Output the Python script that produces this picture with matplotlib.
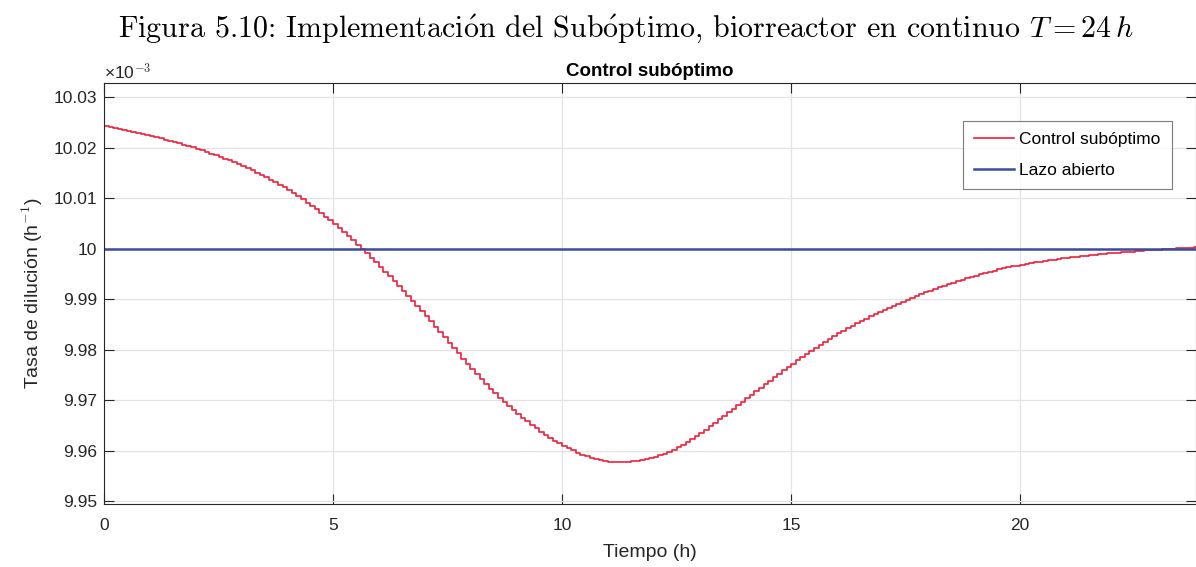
import numpy as np
import matplotlib
matplotlib.use("Agg")
import matplotlib.pyplot as plt
from matplotlib.ticker import FuncFormatter

# Dilution rate (x 1e-3 h^-1) applied by the suboptimal controller, one value per 0.1 h interval
dt = 0.1
control_rate = [
    10.02430, 10.02412, 10.02393, 10.02374, 10.02355, 10.02335, 10.02315, 10.02294, 10.02273, 10.02252,
    10.02230, 10.02208, 10.02185, 10.02161, 10.02137, 10.02112, 10.02086, 10.02059, 10.02032, 10.02004,
    10.01975, 10.01945, 10.01915, 10.01883, 10.01851, 10.01818, 10.01784, 10.01748, 10.01711, 10.01673,
    10.01634, 10.01593, 10.01551, 10.01508, 10.01463, 10.01417, 10.01369, 10.01319, 10.01267, 10.01213,
    10.01157, 10.01099, 10.01039, 10.00977, 10.00913, 10.00847, 10.00779, 10.00709, 10.00637, 10.00563,
    10.00487, 10.00410, 10.00331, 10.00250, 10.00168, 10.00084, 9.99998, 9.99911, 9.99822, 9.99732,
    9.99640, 9.99547, 9.99453, 9.99358, 9.99262, 9.99165, 9.99067, 9.98968, 9.98868, 9.98767,
    9.98665, 9.98562, 9.98458, 9.98353, 9.98247, 9.98141, 9.98035, 9.97930, 9.97826, 9.97723,
    9.97622, 9.97522, 9.97424, 9.97328, 9.97235, 9.97144, 9.97056, 9.96971, 9.96888, 9.96808,
    9.96731, 9.96656, 9.96584, 9.96514, 9.96447, 9.96383, 9.96321, 9.96262, 9.96206, 9.96153,
    9.96102, 9.96054, 9.96009, 9.95966, 9.95928, 9.95894, 9.95864, 9.95839, 9.95818, 9.95802,
    9.95790, 9.95783, 9.95781, 9.95783, 9.95787, 9.95795, 9.95805, 9.95819, 9.95836, 9.95857,
    9.95882, 9.95911, 9.95944, 9.95981, 9.96024, 9.96071, 9.96123, 9.96177, 9.96235, 9.96295,
    9.96359, 9.96424, 9.96491, 9.96558, 9.96627, 9.96696, 9.96766, 9.96836, 9.96906, 9.96976,
    9.97046, 9.97116, 9.97185, 9.97254, 9.97323, 9.97391, 9.97459, 9.97526, 9.97593, 9.97660,
    9.97726, 9.97792, 9.97856, 9.97920, 9.97982, 9.98044, 9.98104, 9.98162, 9.98218, 9.98273,
    9.98326, 9.98377, 9.98428, 9.98477, 9.98525, 9.98573, 9.98619, 9.98664, 9.98708, 9.98751,
    9.98794, 9.98835, 9.98876, 9.98915, 9.98954, 9.98992, 9.99030, 9.99067, 9.99103, 9.99138,
    9.99172, 9.99205, 9.99238, 9.99270, 9.99301, 9.99331, 9.99361, 9.99390, 9.99418, 9.99445,
    9.99471, 9.99497, 9.99522, 9.99546, 9.99569, 9.99591, 9.99612, 9.99632, 9.99651, 9.99669,
    9.99686, 9.99702, 9.99717, 9.99732, 9.99746, 9.99760, 9.99773, 9.99786, 9.99798, 9.99810,
    9.99821, 9.99832, 9.99843, 9.99853, 9.99863, 9.99873, 9.99882, 9.99891, 9.99900, 9.99908,
    9.99916, 9.99924, 9.99932, 9.99939, 9.99946, 9.99953, 9.99960, 9.99966, 9.99972, 9.99978,
    9.99984, 9.99990, 9.99996, 10.00002, 10.00008, 10.00013, 10.00018, 10.00023, 10.00028, 10.00033,
]
open_loop_rate = 10.0

x_ticks = [0, 5, 10, 15, 20]
y_ticks = [9.95, 9.96, 9.97, 9.98, 9.99, 10.00, 10.01, 10.02, 10.03]

times = np.arange(len(control_rate)) * dt

plt.rcParams["mathtext.fontset"] = "cm"
sans = "Liberation Sans"

fig = plt.figure(figsize=(11.96, 5.67), dpi=100)
ax = fig.add_axes([104 / 1196, 1 - 504 / 567, 1092 / 1196, (504 - 83) / 567])

red = "#f0203c"
blue = "#3a4c9c"
ax.step(times, control_rate, where="post", color=red, lw=1.2, label="Control subóptimo")
ax.axhline(open_loop_rate, color=blue, lw=1.8, label="Lazo abierto")

ax.set_xlim(0, 23.84)
ax.set_ylim(9.9495, 10.0328)
ax.set_xticks(x_ticks)
ax.set_yticks(y_ticks)
ax.yaxis.set_major_formatter(FuncFormatter(lambda v, p: f"{round(v, 2):g}"))

ax.grid(True, color="#e3e3e3", lw=0.9)
ax.set_axisbelow(True)
for s in ax.spines.values():
    s.set_color("#262626")
    s.set_linewidth(0.8)
ax.tick_params(direction="in", length=7, width=0.8, color="#262626",
               labelsize=12.5, labelcolor="#262626", top=True, right=True)
ax.tick_params(axis="x", pad=10)
ax.tick_params(axis="y", pad=5)
for lab in ax.get_xticklabels() + ax.get_yticklabels():
    lab.set_family(sans)

ax.set_xlabel("Tiempo (h)", fontsize=14, family=sans, color="#262626", labelpad=8)
ax.set_ylabel("Tasa de dilución (h$^{\\mathsf{-1}}$)", fontsize=14, family=sans,
              color="#262626", labelpad=6)
ax.set_title("Control subóptimo", fontsize=13.5, fontweight="bold", family=sans,
             color="#000000", pad=5)
fig.text(104 / 1196, 1 - 72 / 567, "×10$^{\\mathsf{-3}}$", fontsize=12.5, family=sans,
         color="#262626", ha="left", va="center")

leg = ax.legend(loc="upper right", bbox_to_anchor=(1172 / 1196, 1 - 121 / 567),
                bbox_transform=fig.transFigure, prop={"family": sans, "size": 12.5},
                frameon=True, fancybox=False, edgecolor="#5a5a5a", handlelength=2.3,
                borderpad=0.65, labelspacing=0.9, handletextpad=0.3, borderaxespad=0)
leg.get_frame().set_linewidth(0.8)

fig.text(626 / 1196, 1 - 29 / 567,
         r"Figura 5.10: Implementaci$\acute{\mathrm{o}}$n del Sub$\acute{\mathrm{o}}$ptimo, "
         r"biorreactor en continuo $T=24\,h$",
         family="cmr10", fontsize=21.6, ha="center", va="center")

fig.savefig("out.png", dpi=100)
